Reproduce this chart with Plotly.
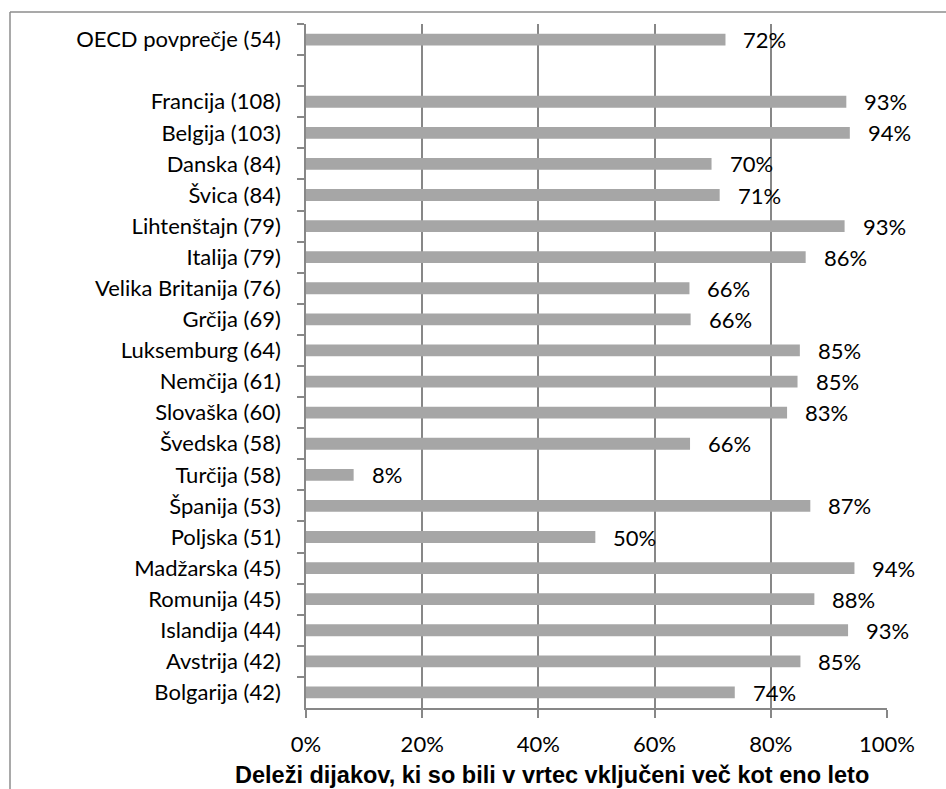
import plotly.graph_objects as go

categories = ["OECD povprečje (54)", " ", "Francija (108)", "Belgija (103)", "Danska (84)",
              "Švica (84)", "Lihtenštajn (79)", "Italija (79)", "Velika Britanija (76)",
              "Grčija (69)", "Luksemburg (64)", "Nemčija (61)", "Slovaška (60)",
              "Švedska (58)", "Turčija (58)", "Španija (53)", "Poljska (51)",
              "Madžarska (45)", "Romunija (45)", "Islandija (44)", "Avstrija (42)",
              "Bolgarija (42)"]
values = [72.2, None, 93.0, 93.6, 69.8, 71.2, 92.7, 86.0, 66.0, 66.2, 85.0, 84.6, 82.8,
          66.1, 8.2, 86.8, 49.8, 94.4, 87.5, 93.3, 85.1, 73.8]
labels = ["72%", "", "93%", "94%", "70%", "71%", "93%", "86%", "66%", "66%", "85%", "85%",
          "83%", "66%", "8%", "87%", "50%", "94%", "88%", "93%", "85%", "74%"]
x_ticks = [0, 20, 40, 60, 80, 100]
x_ticklabels = ["0%", "20%", "40%", "60%", "80%", "100%"]
x_title = "Deleži dijakov, ki so bili v vrtec vključeni več kot eno leto"

FONT = "Lato"
GRID = "#878787"
FS = 22

W, H = 946, 789
ml, mr, mt, mb = 306, 59, 24, 81
pw = W - ml - mr
ph = H - mt - mb
def px_x(px):
    return (px - ml) / pw
def px_y(py):
    return (H - mb - py) / ph

fig = go.Figure()
fig.add_trace(go.Bar(
    y=categories, x=values, orientation="h",
    marker=dict(color="#a6a6a6", line=dict(width=0)),
    width=0.38, hoverinfo="skip",
))

annotations = []
for c, v, t in zip(categories, values, labels):
    if v is None:
        continue
    annotations.append(dict(x=v, y=c, xref="x", yref="y", text=t, showarrow=False,
                            xanchor="left", yanchor="middle", xshift=16, yshift=0,
                            font=dict(family=FONT, size=FS, color="black")))
annotations.append(dict(x=px_x(552), y=px_y(775), xref="paper", yref="paper",
                        text="<b>" + x_title + "</b>", showarrow=False,
                        xanchor="center", yanchor="middle",
                        font=dict(family="Liberation Sans", size=23.5, color="black")))

shapes = [
    dict(type="line", xref="paper", yref="paper", x0=px_x(10), x1=px_x(10),
         y0=px_y(12), y1=px_y(800), line=dict(color="#8c8c8c", width=1.5)),
    dict(type="line", xref="paper", yref="paper", x0=px_x(10), x1=px_x(960),
         y0=px_y(12), y1=px_y(12), line=dict(color="#8c8c8c", width=1.5)),
]

fig.update_layout(
    width=W, height=H,
    margin=dict(l=ml, r=mr, t=mt, b=mb, pad=0),
    paper_bgcolor="white", plot_bgcolor="white",
    showlegend=False,
    annotations=annotations,
    shapes=shapes,
    font=dict(family=FONT, size=FS, color="black"),
    xaxis=dict(
        range=[0, 100], tickvals=x_ticks, ticktext=x_ticklabels,
        showgrid=True, gridcolor=GRID, gridwidth=1.5,
        showline=True, linecolor=GRID, linewidth=1.5,
        ticks="outside", ticklen=8, tickcolor=GRID, tickwidth=1.5,
        ticklabelstandoff=8,
        zeroline=False,
        tickfont=dict(family=FONT, size=FS, color="black"),
        fixedrange=True,
    ),
    yaxis=dict(
        categoryorder="array", categoryarray=categories,
        autorange="reversed",
        showgrid=False, showline=True, linecolor=GRID, linewidth=1.5,
        ticks="outside", ticklen=7, tickcolor=GRID, tickwidth=1.5,
        tickson="boundaries", ticklabelstandoff=19,
        tickfont=dict(family=FONT, size=FS, color="black"),
        fixedrange=True,
    ),
)

fig.write_html("out.html")
